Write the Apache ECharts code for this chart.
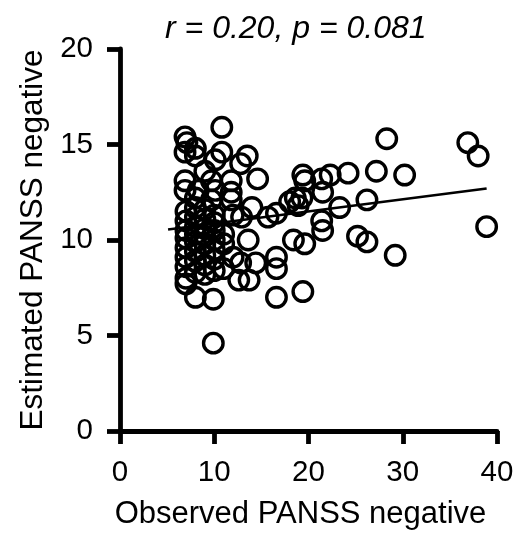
<!DOCTYPE html>
<html>
<head>
<meta charset="utf-8">
<script src="https://cdn.jsdelivr.net/npm/echarts@6/dist/echarts.min.js"></script>
<style>
html,body{margin:0;padding:0;background:#fff;}
#chart{width:524px;height:535px;}
</style>
</head>
<body>
<div id="chart"></div>
<script>
// Observed PANSS negative (x) and estimated PANSS negative (y)
const observed = [
  10.8, 6.9, 7.1, 8.0, 6.9, 8.0, 10.8, 10.1, 13.5, 12.8,
  14.6, 9.0, 6.9, 9.7, 11.8, 6.9, 8.3, 10.1, 11.8, 11.8,
  8.0, 9.7, 14.0, 12.9, 15.7, 13.6, 7.0, 12.8, 14.4, 12.6,
  13.7, 8.0, 9.9, 9.9, 16.6, 16.6, 16.6, 28.3, 19.4, 19.6,
  21.4, 22.3, 24.2, 27.2, 21.5, 18.6, 19.3, 18.0, 18.9, 23.3,
  26.2, 16.6, 12.0, 21.4, 21.5, 18.4, 19.6, 25.2, 26.2, 19.4,
  36.9, 38.0, 30.2, 38.9, 29.2,
  7.0, 7.0, 7.0, 7.0, 7.0, 7.0, 7.0, 7.0,
  8.0, 8.0, 8.0, 8.0, 8.0, 8.0, 8.0, 8.0,
  9.0, 9.0, 9.0, 9.0, 9.0, 9.0, 9.0, 9.0,
  10.0, 10.0, 10.0, 10.0, 10.0, 10.0, 10.0,
  11.0, 11.0, 11.0, 12.0
];
const estimated = [
  15.9, 15.4, 15.1, 14.8, 14.6, 14.4, 14.6, 14.2, 14.4, 14.0,
  13.2, 13.6, 13.1, 13.1, 13.1, 12.6, 12.6, 12.6, 12.5, 12.1,
  12.2, 12.1, 11.7, 11.2, 11.2, 10.0, 9.1, 8.8, 8.8, 7.9,
  7.9, 7.0, 6.9, 4.6, 7.0, 9.1, 8.5, 15.3, 13.4, 13.1,
  13.2, 13.4, 13.5, 13.6, 12.5, 12.2, 12.2, 12.0, 11.8, 11.7,
  12.1, 11.4, 11.3, 11.0, 10.5, 10.0, 9.8, 10.2, 9.9, 7.3,
  15.1, 14.4, 13.4, 10.7, 9.2,
  8.0, 8.6, 9.6, 10.1, 10.5, 11.0, 11.5, 7.7,
  8.3, 8.9, 9.4, 9.9, 10.3, 10.7, 11.2, 11.7,
  8.2, 8.7, 9.2, 9.8, 10.2, 10.6, 11.1, 11.6,
  8.4, 9.0, 9.5, 10.0, 10.5, 10.9, 11.3,
  8.5, 9.8, 10.3, 9.1
];
// Regression line end points
const fitX = [5.1, 38.9];
const fitY = [10.55, 12.7];
const xTicks = [0, 10, 20, 30, 40];
const yTicks = [0, 5, 10, 15, 20];

const FONT = "'Liberation Sans', Arial, Helvetica, sans-serif";
const points = observed.map((x, i) => [x, estimated[i]]);
const fit = fitX.map((x, i) => [x, fitY[i]]);

const chart = echarts.init(document.getElementById('chart'), null, {renderer: 'canvas'});
const axisCommon = {
  type: 'value',
  nameLocation: 'middle',
  splitLine: {show: false},
  axisLine: {show: true, lineStyle: {color: '#000', width: 4.8}},
  axisTick: {show: true, length: 13, lineStyle: {color: '#000', width: 4.8}},
};
chart.setOption({
  animation: false,
  backgroundColor: '#fff',
  title: {
    text: 'r = 0.20, p = 0.081',
    left: 160, top: 8,
    textStyle: {fontStyle: 'italic', fontWeight: 'normal', fontSize: 32, color: '#000', fontFamily: FONT}
  },
  grid: {left: 120, right: 27, top: 49, bottom: 98},
  xAxis: Object.assign({}, axisCommon, {
    min: xTicks[0], max: xTicks[xTicks.length - 1], interval: xTicks[1] - xTicks[0],
    name: 'Observed PANSS negative',
    nameGap: 68,
    nameTextStyle: {fontSize: 31, color: '#000', fontFamily: FONT, padding: [0, 16, 0, 0]},
    axisLabel: {fontSize: 29.5, color: '#000', margin: 27, fontFamily: FONT}
  }),
  yAxis: Object.assign({}, axisCommon, {
    min: yTicks[0], max: yTicks[yTicks.length - 1], interval: yTicks[1] - yTicks[0],
    name: 'Estimated PANSS negative',
    nameGap: 70,
    nameTextStyle: {fontSize: 31.5, color: '#000', fontFamily: FONT},
    axisLabel: {fontSize: 29.5, color: '#000', margin: 27, fontFamily: FONT}
  }),
  series: [
    {
      type: 'scatter',
      data: points,
      symbol: 'circle',
      symbolSize: 19.5,
      itemStyle: {color: 'rgba(255,255,255,0)', borderColor: '#000', borderWidth: 3.4, opacity: 1}
    },
    {
      type: 'line',
      data: fit,
      symbol: 'none',
      lineStyle: {color: '#000', width: 2.6},
      z: 3
    }
  ]
});
</script>
</body>
</html>
